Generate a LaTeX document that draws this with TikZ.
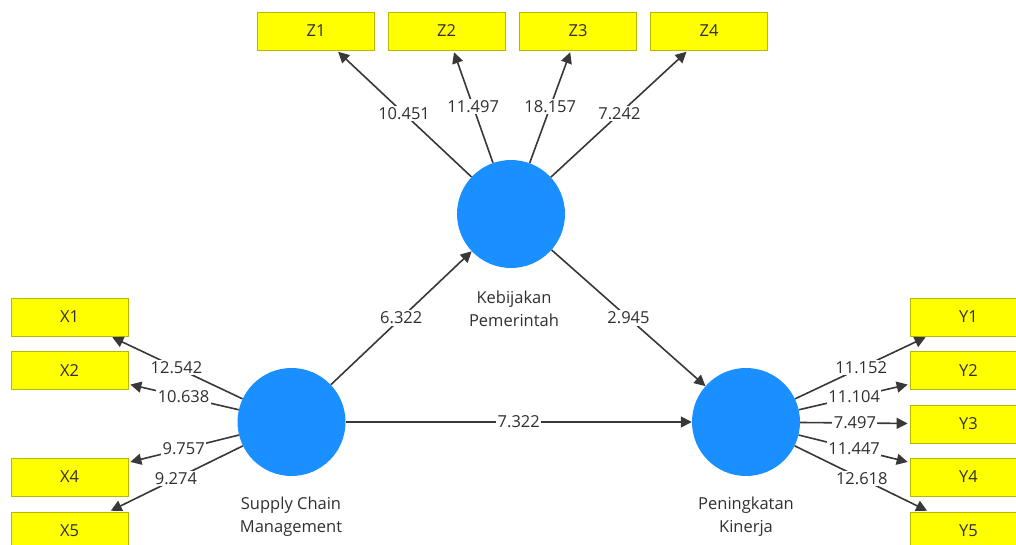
\documentclass[tikz,border=0pt]{standalone}
\usepackage{fontspec}
\setmainfont{Open Sans}
\usetikzlibrary{arrows.meta}
\definecolor{lv}{HTML}{1A8FFF}
\definecolor{ind}{HTML}{FFFF00}
\definecolor{indb}{HTML}{B8B800}
\definecolor{ln}{HTML}{383838}
\definecolor{tx}{HTML}{303030}
\newcommand{\fs}{\fontsize{16.5}{23}\selectfont}
\begin{document}
\begin{tikzpicture}[x=1pt,y=-1pt,
  lvnode/.style={circle, fill=lv, minimum size=108pt, inner sep=0pt},
  indbox/.style={rectangle, fill=ind, draw=indb, line width=0.8pt, minimum width=117pt, minimum height=38pt, font=\fs, text=tx, inner sep=0pt},
  pathedge/.style={draw=ln, line width=1.6pt, -{Triangle[length=11pt,width=11pt]}},
  loadedge/.style={pathedge, shorten >=2pt},
  val/.style={midway, fill=white, inner sep=1.5pt, font=\fs, text=tx},
  lvlabel/.style={align=center, font=\fs, text=tx}]
\useasboundingbox (0,0) rectangle (1016,545);
\clip (0,0) rectangle (1016,545);
\fill[white] (0,0) rectangle (1016,545);
% latent variables
\node[lvnode] (SCM) at (291.5,422) {};
\node[lvnode] (KP) at (511,214) {};
\node[lvnode] (PK) at (746,422) {};
\node[lvlabel] (scmlab) at (291,516.5) {Supply Chain\\Management};
\node[lvlabel] (kplab) at (514,308.5) {Kebijakan\\Pemerintah};
\node[lvlabel] (pklab) at (746,516.5) {Peningkatan\\Kinerja};
% indicators
\node[indbox] (Z1) at (316,31) {Z1};
\node[indbox] (Z2) at (446.5,31) {Z2};
\node[indbox] (Z3) at (578,31) {Z3};
\node[indbox] (Z4) at (709,31) {Z4};
\node[indbox] (X1) at (69.5,317) {X1};
\node[indbox] (X2) at (69.5,370.5) {X2};
\node[indbox] (X4) at (69.5,477) {X4};
\node[indbox] (X5) at (69.5,531) {X5};
\node[indbox] (Y1) at (968.5,317) {Y1};
\node[indbox] (Y2) at (968.5,370.5) {Y2};
\node[indbox] (Y3) at (968.5,424) {Y3};
\node[indbox] (Y4) at (968.5,477) {Y4};
\node[indbox] (Y5) at (968.5,531) {Y5};
% loadings
\draw[loadedge] (KP) -- node[val]{10.451} (Z1);
\draw[loadedge] (KP) -- node[val]{11.497} (Z2);
\draw[loadedge] (KP) -- node[val]{18.157} (Z3);
\draw[loadedge] (KP) -- node[val]{7.242} (Z4);
\draw[loadedge] (SCM) -- node[val]{12.542} (X1);
\draw[loadedge] (SCM) -- node[val]{10.638} (X2);
\draw[loadedge] (SCM) -- node[val]{9.757} (X4);
\draw[loadedge] (SCM) -- node[val]{9.274} (X5);
\draw[loadedge] (PK) -- node[val]{11.152} (Y1);
\draw[loadedge] (PK) -- node[val]{11.104} (Y2);
\draw[loadedge] (PK) -- node[val]{7.497} (Y3);
\draw[loadedge] (PK) -- node[val]{11.447} (Y4);
\draw[loadedge] (PK) -- node[val]{12.618} (Y5);
% structural paths
\draw[pathedge] (SCM) -- node[val]{6.322} (KP);
\draw[pathedge] (KP) -- node[val]{2.945} (PK);
\draw[pathedge] (SCM) -- node[val]{7.322} (PK);
\end{tikzpicture}
\end{document}
